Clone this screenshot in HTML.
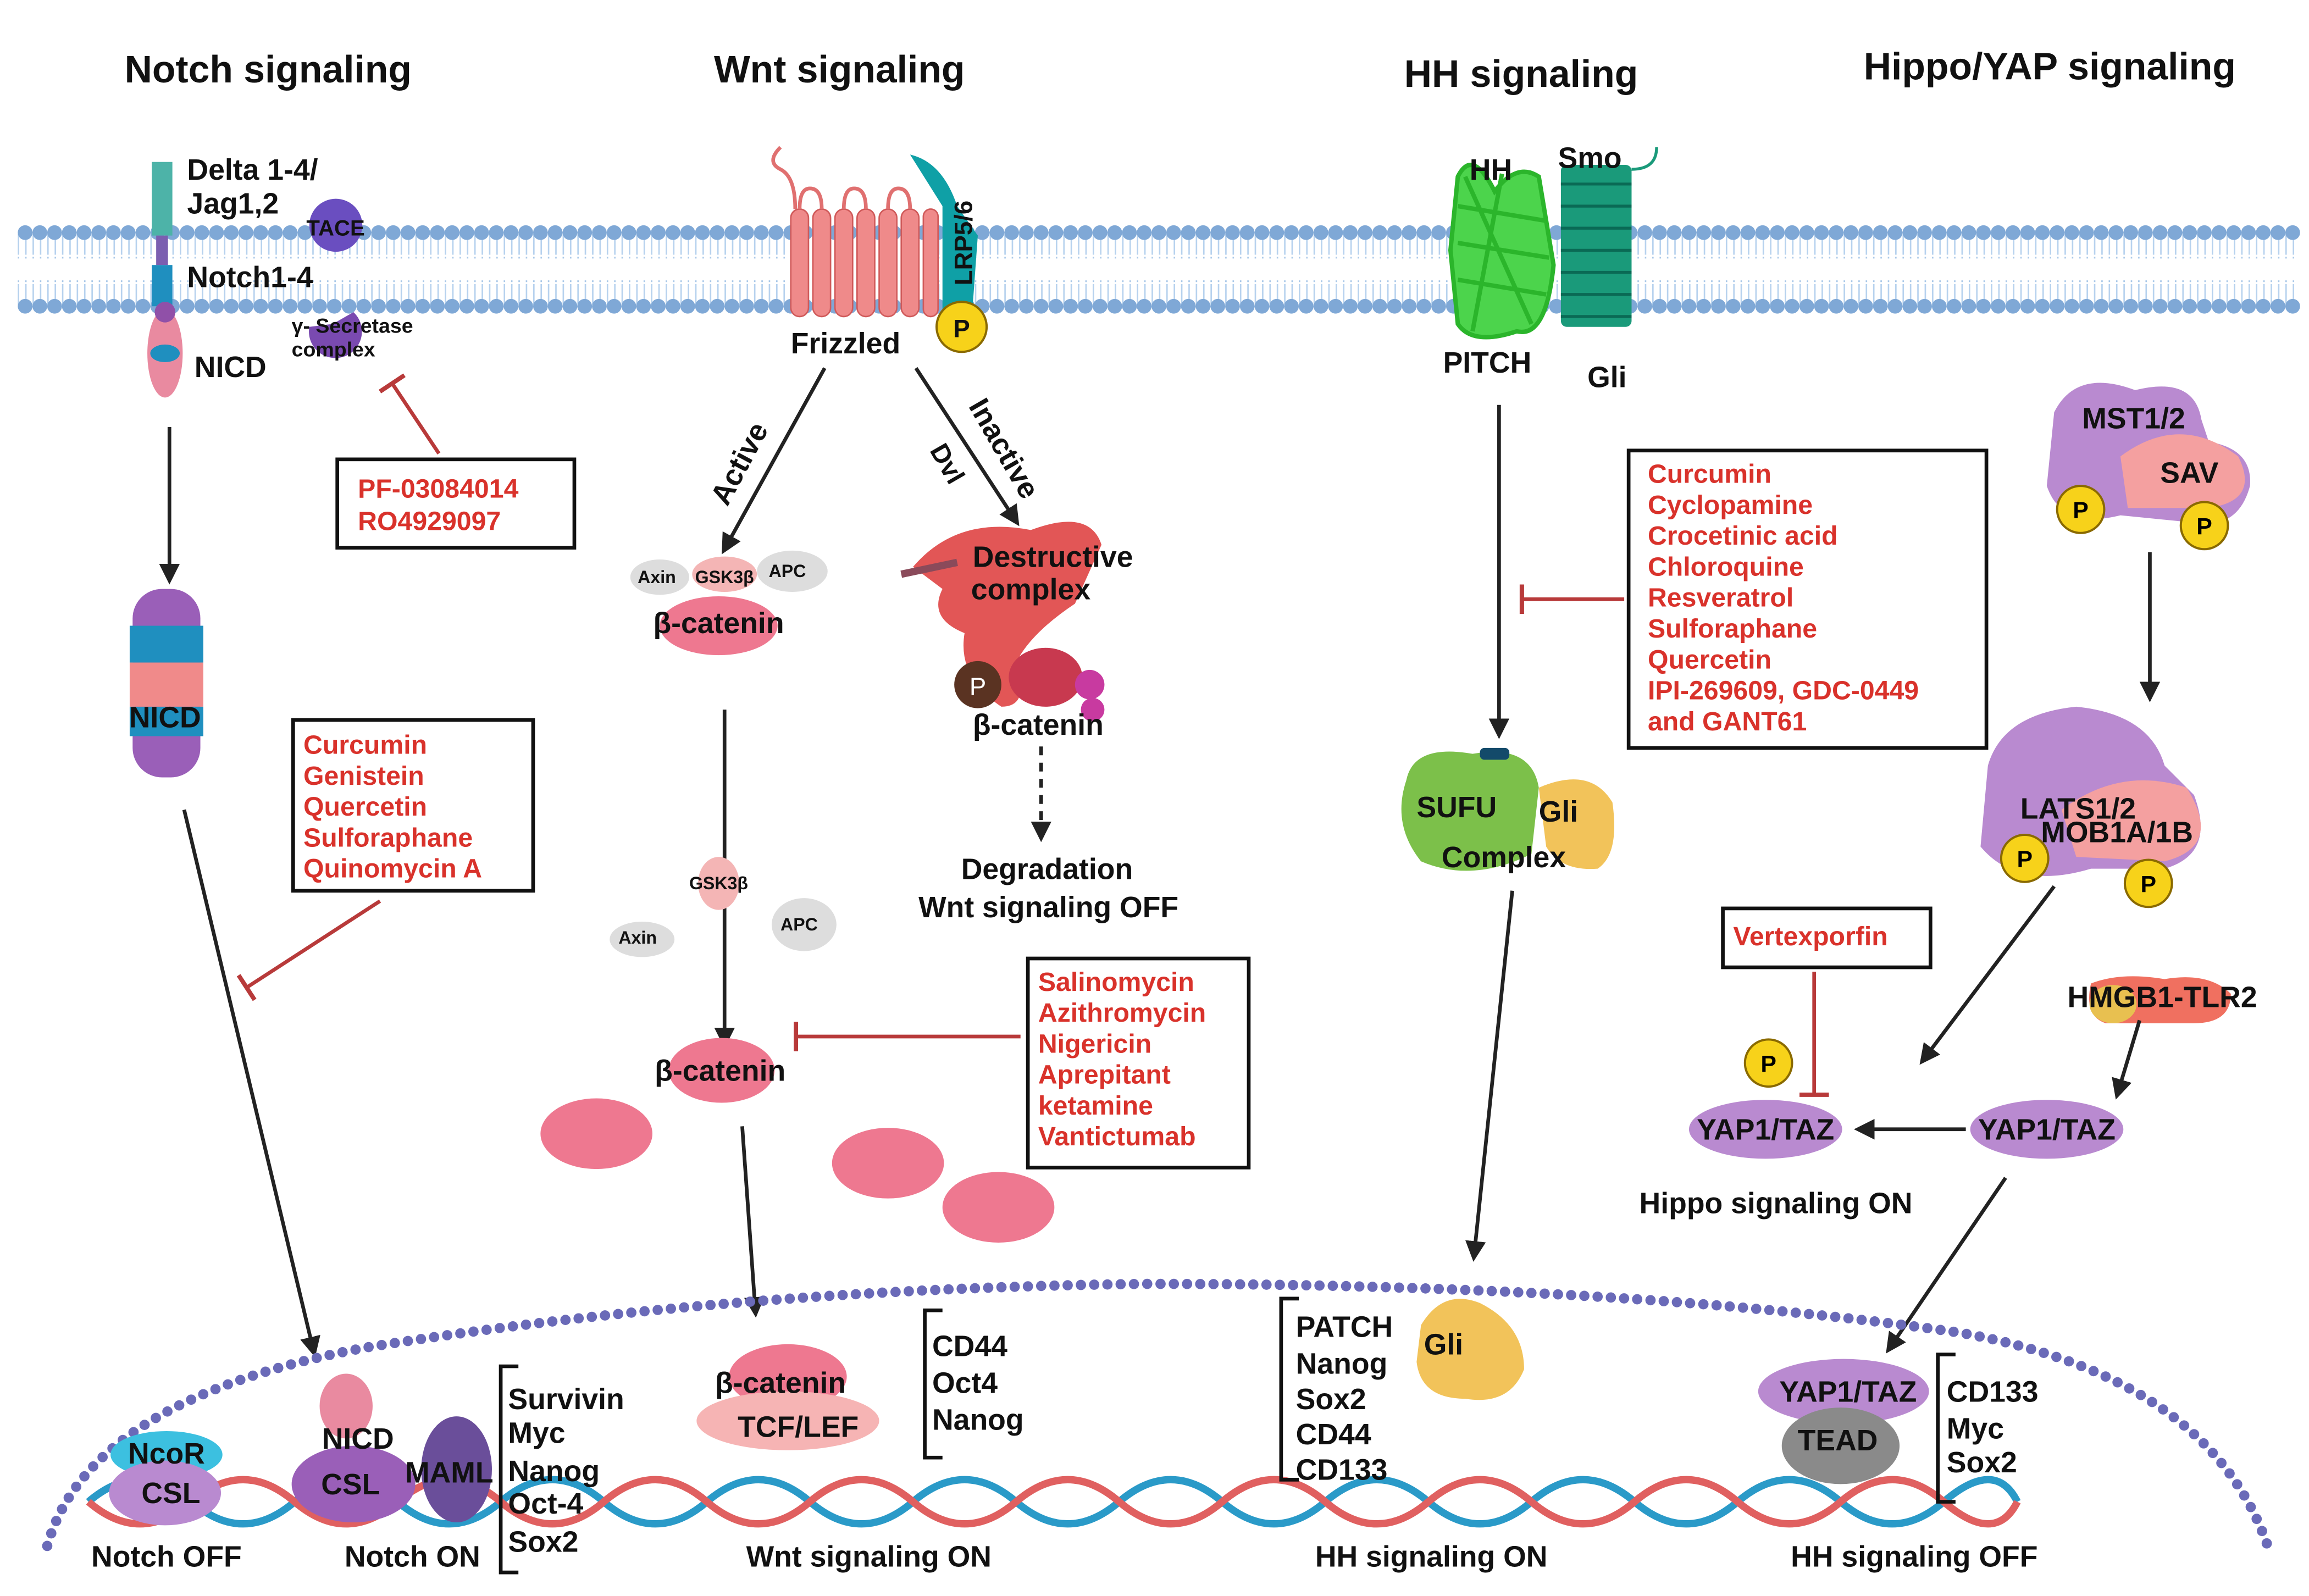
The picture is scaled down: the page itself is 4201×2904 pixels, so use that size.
<!DOCTYPE html>
<html><head><meta charset="utf-8"><style>html,body{margin:0;padding:0;background:#fff}svg{display:block}</style></head><body>
<svg width="4201" height="2904" viewBox="0 0 1568 1084" xmlns="http://www.w3.org/2000/svg" font-family="Liberation Sans, sans-serif" font-weight="bold">
<defs>
<marker id="arb" markerWidth="14" markerHeight="14" refX="10" refY="7" orient="auto" markerUnits="userSpaceOnUse"><path d="M0,0 L14,7 L0,14 z" fill="#222"/></marker>
<marker id="tb" markerWidth="4" markerHeight="20" refX="2" refY="10" orient="auto" markerUnits="userSpaceOnUse"><rect x="0" y="0" width="3" height="20" fill="#b83a3a"/></marker>
</defs>
<rect width="1568" height="1084" fill="#fff"/>
<!-- membrane -->
<g>
<g stroke="#a9c8e8" stroke-width="1.2">
<path d="M12,175 H1560 M12,191 H1560" stroke-dasharray="1 4"/>
<path d="M17,165 V200 M27,165 V200" stroke-width="0"/>
</g>
<line x1="17" y1="166" x2="1560" y2="200" stroke="#b7d2ee" stroke-width="0"/>
<path d="M12,166 H1560 M12,200 H1560" stroke="#b7d2ee" stroke-width="14" stroke-dasharray="1 4" fill="none"/>
<line x1="17" y1="158" x2="1560" y2="158" stroke="#7fa8d6" stroke-width="10" stroke-linecap="round" stroke-dasharray="0 10"/>
<line x1="17" y1="208" x2="1560" y2="208" stroke="#7fa8d6" stroke-width="10" stroke-linecap="round" stroke-dasharray="0 10"/>
</g>
<!-- titles -->
<g font-size="26" fill="#111" text-anchor="middle">
<text x="182" y="56">Notch signaling</text>
<text x="570" y="56">Wnt signaling</text>
<text x="1033" y="59">HH signaling</text>
<text x="1392" y="54">Hippo/YAP signaling</text>
</g>
<!-- Notch receptor -->
<rect x="103" y="110" width="14" height="50" fill="#4db3a8"/>
<rect x="106" y="160" width="8" height="20" fill="#7b5fb0"/>
<rect x="103" y="180" width="14" height="28" fill="#1f8fbf"/>
<ellipse cx="112" cy="240" rx="12" ry="30" fill="#e98aa0"/>
<ellipse cx="112" cy="240" rx="10" ry="6" fill="#1f8fbf"/>
<circle cx="112" cy="212" r="7" fill="#9050a8"/>
<circle cx="228" cy="153" r="18" fill="#6a4ec0"/>
<path d="M210,222 a18,18 0 1,0 30,-10 l-14,8z" fill="#7a4ab0"/>
<g font-size="20" fill="#111">
<text x="127" y="122">Delta 1-4/</text>
<text x="127" y="145">Jag1,2</text>
<text x="208" y="160" font-size="15">TACE</text>
<text x="127" y="195">Notch1-4</text>
<text x="198" y="226" font-size="14">γ- Secretase</text>
<text x="198" y="242" font-size="14">complex</text>
<text x="132" y="256">NICD</text>
</g>
<line x1="298" y1="308" x2="266" y2="260" stroke="#b83a3a" stroke-width="2.5" marker-end="url(#tb)"/>
<rect x="229" y="312" width="161" height="60" fill="#fff" stroke="#111" stroke-width="2.5"/>
<g font-size="18" fill="#d9322b"><text x="243" y="338">PF-03084014</text><text x="243" y="360">RO4929097</text></g>
<line x1="115" y1="290" x2="115" y2="393" stroke="#222" stroke-width="2.5" marker-end="url(#arb)"/>
<!-- NICD blob -->
<rect x="90" y="400" width="46" height="128" rx="20" fill="#9a5fb8"/>
<rect x="88" y="425" width="50" height="25" fill="#1f8fbf"/>
<rect x="88" y="450" width="50" height="30" fill="#f08a8a"/>
<rect x="88" y="480" width="50" height="20" fill="#1f8fbf"/>
<text x="112" y="494" font-size="20" text-anchor="middle" fill="#111">NICD</text>
<rect x="199" y="489" width="163" height="116" fill="#fff" stroke="#111" stroke-width="2.5"/>
<g font-size="18" fill="#d9322b"><text x="206" y="512">Curcumin</text><text x="206" y="533">Genistein</text><text x="206" y="554">Quercetin</text><text x="206" y="575">Sulforaphane</text><text x="206" y="596">Quinomycin A</text></g>
<line x1="258" y1="612" x2="167" y2="671" stroke="#b83a3a" stroke-width="2.5" marker-end="url(#tb)"/>
<line x1="125" y1="550" x2="213" y2="918" stroke="#222" stroke-width="2.5" marker-end="url(#arb)"/>
<!-- Wnt Frizzled -->
<g fill="#ef8a8a" stroke="#d05a5a" stroke-width="1">
<rect x="537" y="142" width="12" height="73" rx="6"/>
<rect x="552" y="142" width="12" height="73" rx="6"/>
<rect x="567" y="142" width="12" height="73" rx="6"/>
<rect x="582" y="142" width="12" height="73" rx="6"/>
<rect x="597" y="142" width="12" height="73" rx="6"/>
<rect x="612" y="142" width="12" height="73" rx="6"/>
<rect x="627" y="142" width="10" height="73" rx="5"/>
</g>
<g stroke="#e07070" stroke-width="2.5" fill="none">
<path d="M543,142 Q543,128 550,128 Q558,128 558,142 M573,142 Q573,128 580,128 Q588,128 588,142 M603,142 Q603,128 610,128 Q618,128 618,142"/>
<path d="M540,142 Q540,120 530,115 Q520,110 530,100"/>
</g>
<path d="M618,105 Q640,110 650,140 L664,160 L660,215 L640,215 L640,140z" fill="#0fa0a6"/>
<text x="660" y="165" font-size="17" fill="#111" transform="rotate(-90 660 165)" text-anchor="middle">LRP5/6</text>
<circle cx="653" cy="222" r="17" fill="#f7d21a" stroke="#8a6a00" stroke-width="1.5"/>
<text x="653" y="229" font-size="17" text-anchor="middle" fill="#111">P</text>
<text x="537" y="240" font-size="20" fill="#111">Frizzled</text>
<line x1="560" y1="250" x2="492" y2="373" stroke="#222" stroke-width="2.5" marker-end="url(#arb)"/>
<line x1="622" y1="250" x2="690" y2="354" stroke="#222" stroke-width="2.5" marker-end="url(#arb)"/>
<text x="508" y="318" font-size="20" fill="#111" transform="rotate(-62 508 318)" text-anchor="middle">Active</text>
<text x="676" y="308" font-size="20" fill="#111" transform="rotate(60 676 308)" text-anchor="middle">Inactive</text>
<text x="638" y="318" font-size="18" fill="#111" transform="rotate(60 638 318)" text-anchor="middle">Dvl</text>
<ellipse cx="448" cy="392" rx="20" ry="12" fill="#ddd"/>
<ellipse cx="538" cy="388" rx="24" ry="14" fill="#ddd"/>
<ellipse cx="492" cy="390" rx="22" ry="12" fill="#f4b5b5"/>
<ellipse cx="488" cy="425" rx="40" ry="20" fill="#ee7890"/>
<g font-size="12" fill="#111"><text x="433" y="396">Axin</text><text x="472" y="396">GSK3β</text><text x="522" y="392">APC</text></g>
<text x="488" y="430" font-size="20" fill="#111" text-anchor="middle">β-catenin</text>
<!-- destructive complex -->
<path d="M620,385 Q650,350 700,360 Q740,345 748,370 L730,410 Q700,430 690,450 Q700,480 680,480 Q650,460 655,430 Q630,420 640,400z" fill="#e25656"/>
<line x1="612" y1="390" x2="650" y2="382" stroke="#8a4a5a" stroke-width="5"/>
<ellipse cx="710" cy="460" rx="25" ry="20" fill="#c8394f"/>
<circle cx="740" cy="465" r="10" fill="#c83aa0"/><circle cx="742" cy="482" r="8" fill="#c83aa0"/>
<circle cx="664" cy="465" r="16" fill="#5a3322"/>
<text x="664" y="472" font-size="17" fill="#fff" text-anchor="middle" font-weight="normal">P</text>
<g font-size="20" fill="#111" text-anchor="middle"><text x="715" y="385">Destructive</text><text x="700" y="407">complex</text><text x="705" y="499">β-catenin</text>
<text x="711" y="597">Degradation</text><text x="712" y="623">Wnt signaling OFF</text></g>
<line x1="707" y1="507" x2="707" y2="568" stroke="#222" stroke-width="2.5" stroke-dasharray="6 5" marker-end="url(#arb)"/>
<line x1="492" y1="482" x2="492" y2="708" stroke="#222" stroke-width="2.5" marker-end="url(#arb)"/>
<ellipse cx="488" cy="600" rx="14" ry="18" fill="#f4b5b5"/>
<ellipse cx="436" cy="638" rx="22" ry="12" fill="#ddd"/>
<ellipse cx="546" cy="628" rx="22" ry="18" fill="#ddd"/>
<g font-size="12" fill="#111"><text x="468" y="604">GSK3β</text><text x="420" y="641">Axin</text><text x="530" y="632">APC</text></g>
<ellipse cx="490" cy="727" rx="36" ry="22" fill="#ee7890"/>
<text x="489" y="734" font-size="20" fill="#111" text-anchor="middle">β-catenin</text>
<line x1="693" y1="704" x2="540" y2="704" stroke="#b83a3a" stroke-width="2.5" marker-end="url(#tb)"/>
<rect x="698" y="651" width="150" height="142" fill="#fff" stroke="#111" stroke-width="2.5"/>
<g font-size="18" fill="#d9322b"><text x="705" y="673">Salinomycin</text><text x="705" y="694">Azithromycin</text><text x="705" y="715">Nigericin</text><text x="705" y="736">Aprepitant</text><text x="705" y="757">ketamine</text><text x="705" y="778">Vantictumab</text></g>
<ellipse cx="405" cy="770" rx="38" ry="24" fill="#ee7890"/>
<ellipse cx="603" cy="790" rx="38" ry="24" fill="#ee7890"/>
<ellipse cx="678" cy="820" rx="38" ry="24" fill="#ee7890"/>
<line x1="504" y1="765" x2="513" y2="891" stroke="#222" stroke-width="2.5" marker-end="url(#arb)"/>
<!-- HH -->
<g stroke="#2bb52b" stroke-width="3" fill="none">
<path d="M990,120 Q1000,100 1015,130 Q1030,110 1045,120 L1055,180 Q1050,230 1030,225 Q1000,235 990,220 L985,170z" fill="#4cd44c"/>
<path d="M990,140 L1050,150 M990,165 L1052,175 M990,190 L1050,200 M995,120 L1040,220 M1020,118 L1000,225"/>
</g>
<g fill="#1a9a7a"><rect x="1060" y="112" width="48" height="110" rx="4"/></g>
<g stroke="#0a6a55" stroke-width="2"><path d="M1060,125 H1108 M1060,140 H1108 M1060,155 H1108 M1060,170 H1108 M1060,185 H1108 M1060,200 H1108 M1060,215 H1108"/></g>
<path d="M1108,115 Q1125,115 1125,100" stroke="#1a9a7a" stroke-width="2" fill="none"/>
<g font-size="20" fill="#111"><text x="998" y="122">HH</text><text x="1058" y="114">Smo</text><text x="980" y="253">PITCH</text><text x="1078" y="263">Gli</text></g>
<line x1="1018" y1="275" x2="1018" y2="498" stroke="#222" stroke-width="2.5" marker-end="url(#arb)"/>
<rect x="1106" y="306" width="243" height="202" fill="#fff" stroke="#111" stroke-width="2.5"/>
<g font-size="18" fill="#d9322b"><text x="1119" y="328">Curcumin</text><text x="1119" y="349">Cyclopamine</text><text x="1119" y="370">Crocetinic acid</text><text x="1119" y="391">Chloroquine</text><text x="1119" y="412">Resveratrol</text><text x="1119" y="433">Sulforaphane</text><text x="1119" y="454">Quercetin</text><text x="1119" y="475">IPI-269609, GDC-0449</text><text x="1119" y="496">and GANT61</text></g>
<line x1="1103" y1="407" x2="1033" y2="407" stroke="#b83a3a" stroke-width="2.5" marker-end="url(#tb)"/>
<path d="M955,530 Q960,505 1000,512 Q1040,505 1045,535 L1040,580 Q1000,600 965,585 Q945,560 955,530z" fill="#7cc04a"/>
<path d="M1045,535 Q1080,520 1095,545 Q1100,580 1085,590 Q1060,592 1050,575z" fill="#f2c35a"/>
<rect x="1005" y="508" width="20" height="8" rx="3" fill="#134a6a"/>
<g font-size="20" fill="#111"><text x="962" y="555">SUFU</text><text x="1045" y="558">Gli</text><text x="979" y="589">Complex</text></g>
<line x1="1027" y1="605" x2="1001" y2="853" stroke="#222" stroke-width="2.5" marker-end="url(#arb)"/>
<!-- Hippo -->
<path d="M1395,280 Q1410,250 1450,265 Q1490,255 1495,285 L1500,300 Q1530,305 1528,330 Q1520,360 1490,355 L1440,350 Q1400,360 1390,330z" fill="#b98ad0"/>
<path d="M1440,310 Q1480,280 1520,310 Q1535,340 1500,345 L1445,345z" fill="#f4a0a0"/>
<g font-size="20" fill="#111"><text x="1414" y="291">MST1/2</text><text x="1467" y="328">SAV</text></g>
<circle cx="1413" cy="346" r="16" fill="#f7d21a" stroke="#8a6a00" stroke-width="1.5"/><text x="1413" y="352" font-size="16" text-anchor="middle">P</text>
<circle cx="1497" cy="357" r="16" fill="#f7d21a" stroke="#8a6a00" stroke-width="1.5"/><text x="1497" y="363" font-size="16" text-anchor="middle">P</text>
<line x1="1460" y1="375" x2="1460" y2="473" stroke="#222" stroke-width="2.5" marker-end="url(#arb)"/>
<path d="M1350,520 Q1360,485 1410,480 Q1460,485 1470,520 L1490,540 Q1505,580 1470,590 L1420,590 Q1370,605 1345,575z" fill="#b98ad0"/>
<path d="M1400,550 Q1440,520 1485,535 Q1510,575 1470,585 L1410,582z" fill="#f4a0a0"/>
<g font-size="20" fill="#111"><text x="1372" y="556">LATS1/2</text><text x="1386" y="572">MOB1A/1B</text></g>
<circle cx="1375" cy="583" r="16" fill="#f7d21a" stroke="#8a6a00" stroke-width="1.5"/><text x="1375" y="589" font-size="16" text-anchor="middle">P</text>
<circle cx="1459" cy="600" r="16" fill="#f7d21a" stroke="#8a6a00" stroke-width="1.5"/><text x="1459" y="606" font-size="16" text-anchor="middle">P</text>
<rect x="1170" y="617" width="141" height="40" fill="#fff" stroke="#111" stroke-width="2.5"/>
<text x="1177" y="642" font-size="18" fill="#d9322b">Vertexporfin</text>
<line x1="1232" y1="660" x2="1232" y2="744" stroke="#b83a3a" stroke-width="2.5" marker-end="url(#tb)"/>
<line x1="1395" y1="602" x2="1306" y2="720" stroke="#222" stroke-width="2.5" marker-end="url(#arb)"/>
<path d="M1420,668 Q1440,660 1470,665 Q1500,660 1515,675 Q1515,695 1490,695 L1430,695 Q1415,690 1420,668z" fill="#f07060"/>
<ellipse cx="1435" cy="682" rx="16" ry="13" fill="#e8c050"/>
<text x="1404" y="684" font-size="20" fill="#111">HMGB1-TLR2</text>
<line x1="1453" y1="693" x2="1438" y2="743" stroke="#222" stroke-width="2.5" marker-end="url(#arb)"/>
<ellipse cx="1199" cy="767" rx="52" ry="20" fill="#b98ad0"/>
<ellipse cx="1390" cy="767" rx="52" ry="20" fill="#b98ad0"/>
<circle cx="1201" cy="722" r="16" fill="#f7d21a" stroke="#8a6a00" stroke-width="1.5"/><text x="1201" y="728" font-size="16" text-anchor="middle">P</text>
<line x1="1335" y1="767" x2="1263" y2="767" stroke="#222" stroke-width="2.5" marker-end="url(#arb)"/>
<g font-size="20" fill="#111" text-anchor="middle"><text x="1199" y="774">YAP1/TAZ</text><text x="1390" y="774">YAP1/TAZ</text><text x="1206" y="824">Hippo signaling ON</text></g>
<line x1="1362" y1="800" x2="1283" y2="916" stroke="#222" stroke-width="2.5" marker-end="url(#arb)"/>
<!-- nucleus -->
<path d="M32,1050 Q60,950 250,915 Q500,875 780,872 Q1100,872 1330,905 Q1500,935 1540,1050" fill="none" stroke="#6a6ab8" stroke-width="7" stroke-linecap="round" stroke-dasharray="0 9"/>
<!-- DNA -->
<g fill="none" stroke-width="5">
<path d="M60,1020 Q95,990 130,1020 T200,1020 T270,1020 T340,1020 T410,1020 T480,1020 T550,1020 T620,1020 T690,1020 T760,1020 T830,1020 T900,1020 T970,1020 T1040,1020 T1110,1020 T1180,1020 T1250,1020 T1320,1020 T1370,1020" stroke="#2a9ac8"/>
<path d="M60,1020 Q95,1050 130,1020 T200,1020 T270,1020 T340,1020 T410,1020 T480,1020 T550,1020 T620,1020 T690,1020 T760,1020 T830,1020 T900,1020 T970,1020 T1040,1020 T1110,1020 T1180,1020 T1250,1020 T1320,1020 T1370,1020" stroke="#e06060"/>
</g>
<!-- bottom complexes -->
<ellipse cx="113" cy="988" rx="38" ry="16" fill="#3cc0e0"/>
<ellipse cx="112" cy="1014" rx="38" ry="22" fill="#b98ad0"/>
<ellipse cx="235" cy="955" rx="18" ry="22" fill="#e98aa0"/>
<ellipse cx="240" cy="1008" rx="42" ry="26" fill="#9a5fb8"/>
<ellipse cx="310" cy="998" rx="24" ry="36" fill="#6a4e9a"/>
<g font-size="20" fill="#111" text-anchor="middle">
<text x="113" y="994">NcoR</text><text x="116" y="1021">CSL</text><text x="113" y="1064">Notch OFF</text>
<text x="243" y="984">NICD</text><text x="238" y="1015">CSL</text><text x="305" y="1007">MAML</text><text x="280" y="1064">Notch ON</text>
</g>
<path d="M352,928 H340 V1068 H352" fill="none" stroke="#111" stroke-width="2.5"/>
<g font-size="20" fill="#111"><text x="345" y="957">Survivin</text><text x="345" y="980">Myc</text><text x="345" y="1006">Nanog</text><text x="345" y="1028">Oct-4</text><text x="345" y="1054">Sox2</text></g>
<ellipse cx="535" cy="935" rx="40" ry="22" fill="#ee7890"/>
<ellipse cx="535" cy="965" rx="62" ry="20" fill="#f6b4b4"/>
<g font-size="20" fill="#111" text-anchor="middle"><text x="530" y="946">β-catenin</text><text x="542" y="976">TCF/LEF</text><text x="590" y="1064">Wnt signaling ON</text></g>
<path d="M640,890 H628 V990 H640" fill="none" stroke="#111" stroke-width="2.5"/>
<g font-size="20" fill="#111"><text x="633" y="921">CD44</text><text x="633" y="946">Oct4</text><text x="633" y="971">Nanog</text></g>
<path d="M882,882 H870 V1005 H882" fill="none" stroke="#111" stroke-width="2.5"/>
<path d="M965,900 Q980,875 1005,885 Q1035,900 1035,930 Q1025,955 995,950 Q965,950 962,925z" fill="#f2c35a"/>
<g font-size="20" fill="#111"><text x="880" y="908">PATCH</text><text x="880" y="933">Nanog</text><text x="880" y="957">Sox2</text><text x="880" y="981">CD44</text><text x="880" y="1005">CD133</text><text x="967" y="920">Gli</text></g>
<text x="972" y="1064" font-size="20" fill="#111" text-anchor="middle">HH signaling ON</text>
<ellipse cx="1252" cy="945" rx="58" ry="22" fill="#b98ad0"/>
<ellipse cx="1250" cy="982" rx="40" ry="26" fill="#8a8a8a"/>
<g font-size="20" fill="#111" text-anchor="middle"><text x="1255" y="952">YAP1/TAZ</text><text x="1248" y="985">TEAD</text><text x="1300" y="1064">HH signaling OFF</text></g>
<path d="M1328,920 H1316 V1020 H1328" fill="none" stroke="#111" stroke-width="2.5"/>
<g font-size="20" fill="#111"><text x="1322" y="952">CD133</text><text x="1322" y="977">Myc</text><text x="1322" y="1000">Sox2</text></g>
</svg>
</body></html>
